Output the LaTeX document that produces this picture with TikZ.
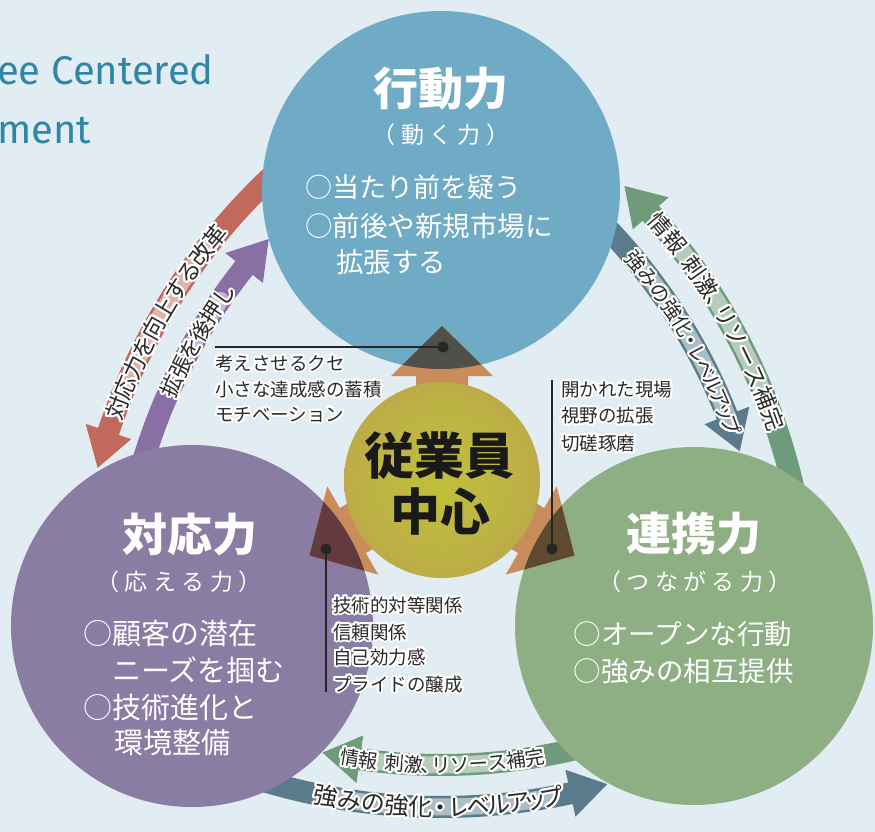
\documentclass[tikz,border=0pt]{standalone}
\usepackage{fontspec}
\usepackage[copies]{contour}
\usetikzlibrary{calc}
\newfontfamily\jp{Noto Sans CJK JP}
\newfontfamily\ttl{Fira Sans}
\definecolor{bg}{HTML}{E1ECF3}
\definecolor{cblue}{HTML}{70ABC5}
\definecolor{cpur}{HTML}{8A7DA3}
\definecolor{cgrn}{HTML}{8DAF83}
\definecolor{ared}{HTML}{C0695C}
\definecolor{apur}{HTML}{8A6FA5}
\definecolor{agrn}{HTML}{6E9C7A}
\definecolor{aslt}{HTML}{5A7B8C}
\definecolor{atan}{HTML}{C98C5B}
\definecolor{ovb}{HTML}{50504A}
\definecolor{ovp}{HTML}{633A3E}
\definecolor{ovg}{HTML}{5E4B2F}
\definecolor{cin}{HTML}{C0C03A}
\definecolor{cmid}{HTML}{BDB145}
\definecolor{cout}{HTML}{BA8A55}
\definecolor{ttlc}{HTML}{2F87A5}
\definecolor{ink}{HTML}{2A2A2A}
\pgfdeclareradialshading{ctrshade}{\pgfpoint{0bp}{0bp}}{color(0bp)=(cin); color(20bp)=(cmid); color(50bp)=(cout)}
\contourlength{2pt}
\contournumber{24}

% #1 colour, #2 centre, #3 radius, #4 tail angle, #5 tip angle
\newcommand\bigarrow[5]{%
  \begin{scope}[shift={#2}]
    \pgfmathsetmacro\hl{38/#3*57.2958}%
    \pgfmathsetmacro\hb{#5-ifthenelse(#5>#4,1,-1)*\hl}%
    \fill[#1] (#4:{#3+11}) arc[start angle=#4, end angle=\hb, radius=#3+11]
      -- (\hb:{#3+24}) -- (#5:#3) -- (\hb:{#3-24}) -- (\hb:{#3-11})
      arc[start angle=\hb, end angle=#4, radius=#3-11] -- cycle;
  \end{scope}}
% #1 centre, #2 radius, #3 start, #4 end
\newcommand\glowarc[4]{%
  \begin{scope}[shift={#1}]
    \draw[white, opacity=.5, line width=17, line cap=round] (#3:#2) arc[start angle=#3, end angle=#4, radius=#2];
  \end{scope}}
% #1 centre, #2 radius, #3 centre angle, #4 dir, #5 font size, #6 step, #7 prefix, #8 list
\newcommand\arclabel[8]{%
  \begin{scope}[shift={#1}]
    \foreach \oo/\chr [count=\k] in {#8}{%
      \pgfmathsetmacro\ang{#3-(#4)*(\oo)*#6/#2*57.2958}%
      \pgfmathsetmacro\rot{\ang-(#4)*90}%
      \node[jpt=#5, text=ink, rotate=\rot] (#7\k) at (\ang:#2) {\contour{white}{\chr}};
    }
  \end{scope}}
\newcommand\lsk{\kern5.5pt}

\begin{document}
\begin{tikzpicture}[x=1pt,y=1pt,
  jpt/.style={font=\jp\fontsize{#1}{#1}\selectfont, inner sep=0pt, text height={0.83*#1}, text depth={0.07*#1}},
  wt/.style={jpt=#1, text=white},
  wtb/.style={jpt=#1, text=white, font=\jp\bfseries\fontsize{#1}{#1}\selectfont},
  dot/.style={circle, fill=black!85, inner sep=0pt, minimum size=11},
  leader/.style={draw=black!85, line width=1.6},
  ball/.style={circle, inner sep=0pt, draw=none}]

\fill[bg] (0,0) rectangle (875,-832);
\useasboundingbox (0,0) rectangle (875,-832);

% curved arrows
\bigarrow{ared}{(694,-626)}{617}{130}{165.15}
\bigarrow{apur}{(694,-626)}{575}{168}{137.7}
\bigarrow{agrn}{(192,-626)}{617}{12}{45.5}
\bigarrow{aslt}{(192,-626)}{575}{47}{17.7}
\bigarrow{aslt}{(441,-190)}{617}{-108}{-74.36}
\bigarrow{agrn}{(441,-190)}{575}{-72}{-101.9}

\glowarc{(694,-626)}{617}{141.5}{158.7}
\glowarc{(694,-626)}{575}{145.5}{154.7}
\glowarc{(192,-626)}{617}{20}{40.2}
\glowarc{(192,-626)}{575}{21}{39}
\glowarc{(441,-190)}{575}{-98.5}{-81.2}
\glowarc{(441,-190)}{617}{-100.5}{-80.1}

% three circles
\node[ball, fill=cblue, minimum size=358] (act) at (441,-190) {};
\node[ball, fill=cpur, minimum size=362] (resp) at (192,-626) {};
\node[ball, fill=cgrn, minimum size=358] (coop) at (694,-626) {};

% centre arrows
\foreach \r in {0,120,240}
  \fill[atan, shift={(442,-479)}, rotate=\r] (-26,0) -- (-26,103) -- (-51,103) -- (0,153) -- (51,103) -- (26,103) -- (26,0) -- cycle;
\begin{scope}
  \clip (441,-190) circle[radius=179];
  \fill[ovb, shift={(442,-479)}] (-26,0) -- (-26,103) -- (-51,103) -- (0,153) -- (51,103) -- (26,103) -- (26,0) -- cycle;
\end{scope}
\begin{scope}
  \clip (192,-626) circle[radius=181];
  \fill[ovp, shift={(442,-479)}, rotate=120] (-26,0) -- (-26,103) -- (-51,103) -- (0,153) -- (51,103) -- (26,103) -- (26,0) -- cycle;
\end{scope}
\begin{scope}
  \clip (694,-626) circle[radius=179];
  \fill[ovg, shift={(442,-479)}, rotate=240] (-26,0) -- (-26,103) -- (-51,103) -- (0,153) -- (51,103) -- (26,103) -- (26,0) -- cycle;
\end{scope}
\node[ball, minimum size=196, shading=ctrshade] (core) at (442,-480) {};
\node[jpt=50, text=black!90, font=\jp\bfseries\fontsize{50}{50}\selectfont] (core1) at (439,-455) {従業員};
\node[jpt=50, text=black!90, font=\jp\bfseries\fontsize{50}{50}\selectfont] (core2) at (440,-511.5) {中心};

% leaders
\coordinate (eA) at (215,-347);
\coordinate (eB) at (552,-380);
\coordinate (eC) at (326,-692);
\node[dot] (dA) at (443,-347) {};
\node[dot] (dB) at (552,-549) {};
\node[dot] (dC) at (326,-549) {};
\draw[leader] (dA.center) -- (eA);
\draw[leader] (dB.center) -- (eB);
\draw[leader] (dC.center) -- (eC);
\node[dot] at (dA) {};
\node[dot] at (dB) {};
\node[dot] at (dC) {};

\node[jpt=18.5, text=ink, anchor=west] (la1) at (215,-363) {\contour{white}{考えさせるクセ}};
\node[jpt=18.5, text=ink, anchor=west] (la2) at (215,-389) {\contour{white}{小さな達成感の蓄積}};
\node[jpt=18.5, text=ink, anchor=west] (la3) at (215,-414) {\contour{white}{モチベーション}};
\node[jpt=18.5, text=ink, anchor=west] (lb1) at (561,-389) {\contour{white}{開かれた現場}};
\node[jpt=18.5, text=ink, anchor=west] (lb2) at (561,-415.5) {\contour{white}{視野の拡張}};
\node[jpt=18.5, text=ink, anchor=west] (lb3) at (561,-443) {\contour{white}{切磋琢磨}};
\node[jpt=18.5, text=ink, anchor=west] (lc1) at (333,-605) {\contour{white}{技術的対等関係}};
\node[jpt=18.5, text=ink, anchor=west] (lc2) at (333,-632) {\contour{white}{信頼関係}};
\node[jpt=18.5, text=ink, anchor=west] (lc3) at (333,-657) {\contour{white}{自己効力感}};
\node[jpt=18.5, text=ink, anchor=west] (lc4) at (333,-684) {\contour{white}{プライドの醸成}};

% circle texts
\node[wtb=45] (actT) at (441,-88) {行動力};
\node[wt=23] (actS) at (441,-135) {（\lsk 動\lsk く\lsk 力\lsk ）};
\node[wt=27, anchor=west] (act1) at (305,-187.5) {○当たり前を疑う};
\node[wt=27.5, anchor=west] (act2) at (305,-226) {○前後や新規市場に};
\node[wt=27.5, anchor=west] (act3) at (336,-262.5) {拡張する};

\node[wtb=45] (respT) at (189.5,-534) {対応力};
\node[wt=23] (respS) at (179,-581.5) {（\lsk 応\lsk え\lsk る\lsk 力\lsk ）};
\node[wt=29, anchor=west] (resp1) at (83,-633) {○顧客の潜在};
\node[wt=29, anchor=west] (resp2) at (112,-670) {ニーズを掴む};
\node[wt=29, anchor=west] (resp3) at (83,-707) {○技術進化と};
\node[wt=29, anchor=west] (resp4) at (114,-742) {環境整備};

\node[wtb=45] (coopT) at (693.5,-533) {連携力};
\node[wt=23] (coopS) at (695,-581.5) {（\lsk つ\lsk な\lsk が\lsk る\lsk 力\lsk ）};
\node[wt=27.5, anchor=west] (coop1) at (573.5,-634) {○オープンな行動};
\node[wt=27.5, anchor=west] (coop2) at (573.5,-671) {○強みの相互提供};

% title fragments
\node[anchor=base west, inner sep=0pt, font=\ttl\fontsize{40}{40}\selectfont, text=ttlc] (title1) at (-3,-85) {ee Centered};
\node[anchor=base west, inner sep=0pt, font=\ttl\fontsize{40}{40}\selectfont, text=ttlc] (title2) at (-3,-143) {ment};

% arc labels
\arclabel{(694,-626)}{617}{150.1}{1}{23}{22}{rl}{-4.5/対,-3.5/応,-2.5/力,-1.5/を,-0.5/向,0.5/上,1.5/す,2.5/る,3.5/改,4.5/革}
\arclabel{(694,-626)}{575}{150.1}{1}{22}{21}{pl}{-2.5/拡,-1.5/張,-0.5/を,0.5/後,1.5/押,2.5/し}
\arclabel{(192,-626)}{617}{30.1}{1}{22.5}{22.8}{gl}{-4.95/情,-3.95/報,-2.55/刺,-1.55/激,-0.65/、,-0.05/リ,0.95/ソ,1.95/ー,2.95/ス,3.95/補,4.95/完}
\arclabel{(192,-626)}{575}{30}{1}{20}{20.1}{sl}{-4.7/強,-3.7/み,-2.7/の,-1.7/強,-0.7/化,0.1/・,0.925/レ,1.715/ベ,2.545/ル,3.375/ア,4.08/ッ,4.785/プ}
\arclabel{(441,-190)}{575}{-89.85}{-1}{19.5}{18.8}{gb}{-4.95/情,-3.95/報,-2.55/刺,-1.55/激,-0.65/、,-0.05/リ,0.95/ソ,1.95/ー,2.95/ス,3.95/補,4.95/完}
\arclabel{(441,-190)}{617}{-90.3}{-1}{24}{24}{sb}{-4.7/強,-3.7/み,-2.7/の,-1.7/強,-0.7/化,0.1/・,0.925/レ,1.715/ベ,2.545/ル,3.375/ア,4.08/ッ,4.785/プ}
\end{tikzpicture}
\end{document}
